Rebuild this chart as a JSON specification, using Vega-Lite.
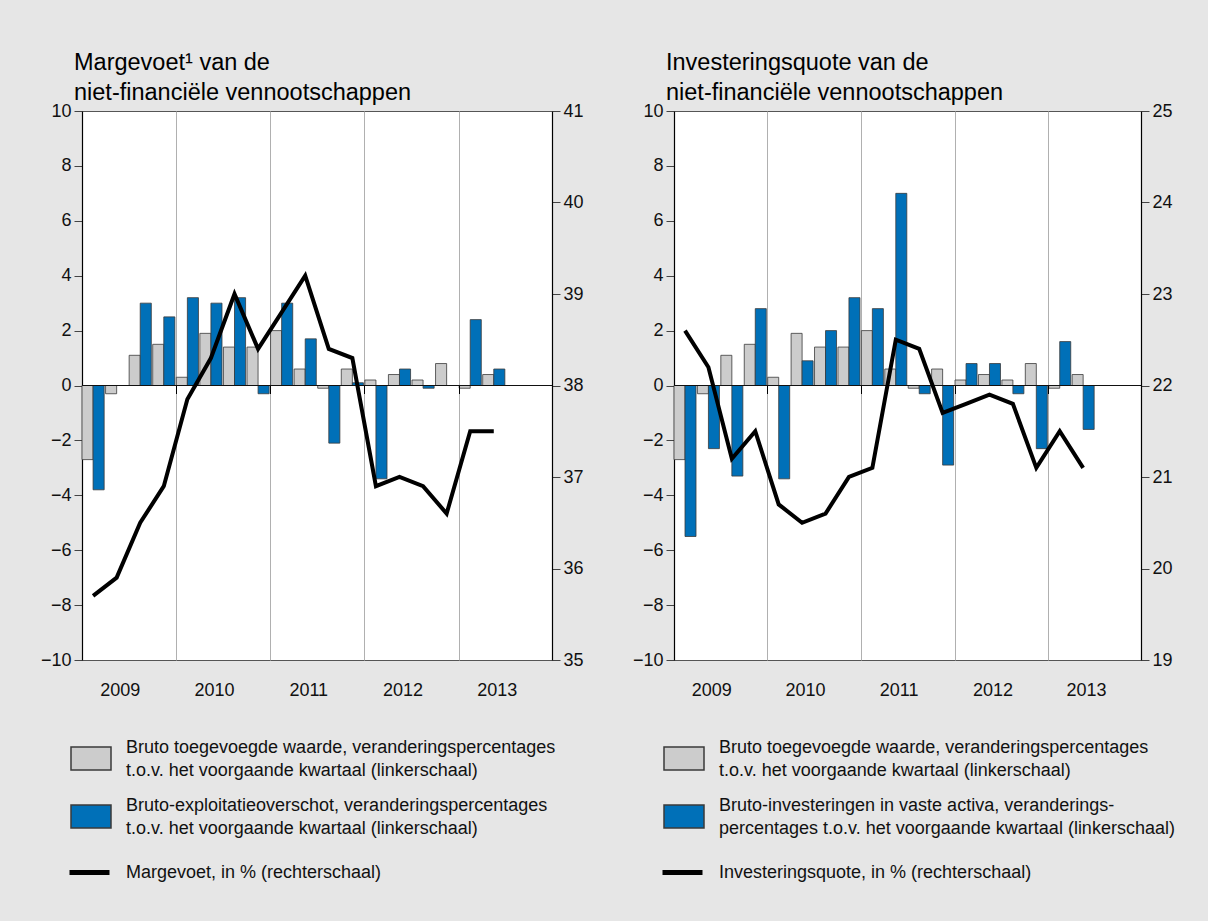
{
  "$schema": "https://vega.github.io/schema/vega-lite/v6.json",
  "background": "#e6e6e6",
  "padding": {"left": 39, "top": 50, "right": 44, "bottom": 44},
  "datasets": {
    "m_bars": [
      {"kwartaal": "2009-1", "reeks": "bw", "waarde": -2.7}, {"kwartaal": "2009-1", "reeks": "beo", "waarde": -3.8},
      {"kwartaal": "2009-2", "reeks": "bw", "waarde": -0.3}, {"kwartaal": "2009-2", "reeks": "beo", "waarde": 0},
      {"kwartaal": "2009-3", "reeks": "bw", "waarde": 1.1}, {"kwartaal": "2009-3", "reeks": "beo", "waarde": 3.0},
      {"kwartaal": "2009-4", "reeks": "bw", "waarde": 1.5}, {"kwartaal": "2009-4", "reeks": "beo", "waarde": 2.5},
      {"kwartaal": "2010-1", "reeks": "bw", "waarde": 0.3}, {"kwartaal": "2010-1", "reeks": "beo", "waarde": 3.2},
      {"kwartaal": "2010-2", "reeks": "bw", "waarde": 1.9}, {"kwartaal": "2010-2", "reeks": "beo", "waarde": 3.0},
      {"kwartaal": "2010-3", "reeks": "bw", "waarde": 1.4}, {"kwartaal": "2010-3", "reeks": "beo", "waarde": 3.2},
      {"kwartaal": "2010-4", "reeks": "bw", "waarde": 1.4}, {"kwartaal": "2010-4", "reeks": "beo", "waarde": -0.3},
      {"kwartaal": "2011-1", "reeks": "bw", "waarde": 2.0}, {"kwartaal": "2011-1", "reeks": "beo", "waarde": 3.0},
      {"kwartaal": "2011-2", "reeks": "bw", "waarde": 0.6}, {"kwartaal": "2011-2", "reeks": "beo", "waarde": 1.7},
      {"kwartaal": "2011-3", "reeks": "bw", "waarde": -0.1}, {"kwartaal": "2011-3", "reeks": "beo", "waarde": -2.1},
      {"kwartaal": "2011-4", "reeks": "bw", "waarde": 0.6}, {"kwartaal": "2011-4", "reeks": "beo", "waarde": 0.1},
      {"kwartaal": "2012-1", "reeks": "bw", "waarde": 0.2}, {"kwartaal": "2012-1", "reeks": "beo", "waarde": -3.4},
      {"kwartaal": "2012-2", "reeks": "bw", "waarde": 0.4}, {"kwartaal": "2012-2", "reeks": "beo", "waarde": 0.6},
      {"kwartaal": "2012-3", "reeks": "bw", "waarde": 0.2}, {"kwartaal": "2012-3", "reeks": "beo", "waarde": -0.1},
      {"kwartaal": "2012-4", "reeks": "bw", "waarde": 0.8}, {"kwartaal": "2012-4", "reeks": "beo", "waarde": 0},
      {"kwartaal": "2013-1", "reeks": "bw", "waarde": -0.1}, {"kwartaal": "2013-1", "reeks": "beo", "waarde": 2.4},
      {"kwartaal": "2013-2", "reeks": "bw", "waarde": 0.4}, {"kwartaal": "2013-2", "reeks": "beo", "waarde": 0.6}
    ],
    "m_line": [
      {"kwartaal": "2009-1", "margevoet": 35.7}, {"kwartaal": "2009-2", "margevoet": 35.9},
      {"kwartaal": "2009-3", "margevoet": 36.5}, {"kwartaal": "2009-4", "margevoet": 36.9},
      {"kwartaal": "2010-1", "margevoet": 37.85}, {"kwartaal": "2010-2", "margevoet": 38.3},
      {"kwartaal": "2010-3", "margevoet": 39.0}, {"kwartaal": "2010-4", "margevoet": 38.4},
      {"kwartaal": "2011-1", "margevoet": 38.8}, {"kwartaal": "2011-2", "margevoet": 39.2},
      {"kwartaal": "2011-3", "margevoet": 38.4}, {"kwartaal": "2011-4", "margevoet": 38.3},
      {"kwartaal": "2012-1", "margevoet": 36.9}, {"kwartaal": "2012-2", "margevoet": 37.0},
      {"kwartaal": "2012-3", "margevoet": 36.9}, {"kwartaal": "2012-4", "margevoet": 36.6},
      {"kwartaal": "2013-1", "margevoet": 37.5}, {"kwartaal": "2013-2", "margevoet": 37.5}
    ],
    "i_bars": [
      {"kwartaal": "2009-1", "reeks": "bw", "waarde": -2.7}, {"kwartaal": "2009-1", "reeks": "bi", "waarde": -5.5},
      {"kwartaal": "2009-2", "reeks": "bw", "waarde": -0.3}, {"kwartaal": "2009-2", "reeks": "bi", "waarde": -2.3},
      {"kwartaal": "2009-3", "reeks": "bw", "waarde": 1.1}, {"kwartaal": "2009-3", "reeks": "bi", "waarde": -3.3},
      {"kwartaal": "2009-4", "reeks": "bw", "waarde": 1.5}, {"kwartaal": "2009-4", "reeks": "bi", "waarde": 2.8},
      {"kwartaal": "2010-1", "reeks": "bw", "waarde": 0.3}, {"kwartaal": "2010-1", "reeks": "bi", "waarde": -3.4},
      {"kwartaal": "2010-2", "reeks": "bw", "waarde": 1.9}, {"kwartaal": "2010-2", "reeks": "bi", "waarde": 0.9},
      {"kwartaal": "2010-3", "reeks": "bw", "waarde": 1.4}, {"kwartaal": "2010-3", "reeks": "bi", "waarde": 2.0},
      {"kwartaal": "2010-4", "reeks": "bw", "waarde": 1.4}, {"kwartaal": "2010-4", "reeks": "bi", "waarde": 3.2},
      {"kwartaal": "2011-1", "reeks": "bw", "waarde": 2.0}, {"kwartaal": "2011-1", "reeks": "bi", "waarde": 2.8},
      {"kwartaal": "2011-2", "reeks": "bw", "waarde": 0.6}, {"kwartaal": "2011-2", "reeks": "bi", "waarde": 7.0},
      {"kwartaal": "2011-3", "reeks": "bw", "waarde": -0.1}, {"kwartaal": "2011-3", "reeks": "bi", "waarde": -0.3},
      {"kwartaal": "2011-4", "reeks": "bw", "waarde": 0.6}, {"kwartaal": "2011-4", "reeks": "bi", "waarde": -2.9},
      {"kwartaal": "2012-1", "reeks": "bw", "waarde": 0.2}, {"kwartaal": "2012-1", "reeks": "bi", "waarde": 0.8},
      {"kwartaal": "2012-2", "reeks": "bw", "waarde": 0.4}, {"kwartaal": "2012-2", "reeks": "bi", "waarde": 0.8},
      {"kwartaal": "2012-3", "reeks": "bw", "waarde": 0.2}, {"kwartaal": "2012-3", "reeks": "bi", "waarde": -0.3},
      {"kwartaal": "2012-4", "reeks": "bw", "waarde": 0.8}, {"kwartaal": "2012-4", "reeks": "bi", "waarde": -2.3},
      {"kwartaal": "2013-1", "reeks": "bw", "waarde": -0.1}, {"kwartaal": "2013-1", "reeks": "bi", "waarde": 1.6},
      {"kwartaal": "2013-2", "reeks": "bw", "waarde": 0.4}, {"kwartaal": "2013-2", "reeks": "bi", "waarde": -1.6}
    ],
    "i_line": [
      {"kwartaal": "2009-1", "quote": 22.6}, {"kwartaal": "2009-2", "quote": 22.2},
      {"kwartaal": "2009-3", "quote": 21.2}, {"kwartaal": "2009-4", "quote": 21.5},
      {"kwartaal": "2010-1", "quote": 20.7}, {"kwartaal": "2010-2", "quote": 20.5},
      {"kwartaal": "2010-3", "quote": 20.6}, {"kwartaal": "2010-4", "quote": 21.0},
      {"kwartaal": "2011-1", "quote": 21.1}, {"kwartaal": "2011-2", "quote": 22.5},
      {"kwartaal": "2011-3", "quote": 22.4}, {"kwartaal": "2011-4", "quote": 21.7},
      {"kwartaal": "2012-1", "quote": 21.8}, {"kwartaal": "2012-2", "quote": 21.9},
      {"kwartaal": "2012-3", "quote": 21.8}, {"kwartaal": "2012-4", "quote": 21.1},
      {"kwartaal": "2013-1", "quote": 21.5}, {"kwartaal": "2013-2", "quote": 21.1}
    ]
  },
  "spacing": 122,
  "bounds": "flush",
  "resolve": {"scale": {"fill": "independent", "stroke": "independent", "xOffset": "independent"}, "legend": {"fill": "independent", "stroke": "independent"}},
  "hconcat": [
    {
      "width": 470,
      "height": 549,
      "title": {"text": ["Margevoet¹ van de", "niet-financiële vennootschappen"], "anchor": "start", "frame": "group", "dx": -8, "offset": -2},
      "layer": [
        {
          "data": {"name": "m_bars"},
          "mark": {"type": "bar", "stroke": "#3a3a3a", "strokeWidth": 0.8},
          "encoding": {
            "x": {"field": "kwartaal", "type": "ordinal",
              "scale": {"domain": ["2009-1","2009-2","2009-3","2009-4","2010-1","2010-2","2010-3","2010-4","2011-1","2011-2","2011-3","2011-4","2012-1","2012-2","2012-3","2012-4","2013-1","2013-2","2013-3","2013-4"], "paddingInner": 0.06, "paddingOuter": 0},
              "axis": {"title": null, "orient": "bottom", "values": ["2009-3","2010-1","2010-3","2011-1","2011-3","2012-1","2012-3","2013-1","2013-3"], "bandPosition": 0, "domain": false, "ticks": false, "labelAngle": 0, "labelPadding": 21, "labelOffset": -20,
                "labelExpr": "indexof(datum.value, '-3') > 0 ? slice(datum.value, 0, 4) : ''",
                "grid": true, "gridColor": "#b0b0b0", "gridWidth": 1,
                "gridOpacity": {"condition": {"test": "indexof(datum.value, '-1') > 0", "value": 1}, "value": 0}}},
            "xOffset": {"field": "reeks", "type": "nominal", "scale": {"domain": ["bw","beo"], "paddingInner": 0, "paddingOuter": 0}},
            "y": {"field": "waarde", "type": "quantitative", "scale": {"domain": [-10, 10], "nice": false},
              "axis": {"title": null, "orient": "left", "values": [-10,-8,-6,-4,-2,0,2,4,6,8,10], "grid": false, "tickSize": 8, "labelPadding": 3}},
            "fill": {"field": "reeks", "type": "nominal",
              "scale": {"domain": ["bw","beo"], "range": ["#cccccc","#0070b8"]},
              "legend": {"orient": "none", "legendX": -12, "legendY": 616, "direction": "vertical", "title": null, "padding": 0,
                "symbolType": "M-1,-0.05H1V1.1H-1Z", "rowPadding": 5, "labelOffset": 14,
                "labelExpr": "datum.value == 'bw' ? ['Bruto toegevoegde waarde, veranderingspercentages', 't.o.v. het voorgaande kwartaal (linkerschaal)'] : ['Bruto-exploitatieoverschot, veranderingspercentages', 't.o.v. het voorgaande kwartaal (linkerschaal)']"}}
          }
        },
        {
          "data": {"values": [{}]},
          "mark": {"type": "rule", "color": "#111111", "strokeWidth": 1.2},
          "encoding": {"y": {"datum": 0, "type": "quantitative", "scale": {"domain": [-10, 10], "nice": false}, "axis": null}}
        },
        {
          "data": {"name": "m_line"},
          "mark": {"type": "line", "strokeWidth": 4},
          "encoding": {
            "x": {"field": "kwartaal", "type": "ordinal",
              "axis": {"title": null, "orient": "bottom", "offset": -274.5, "values": ["2010-1","2011-1","2012-1","2013-1"], "bandPosition": 0, "labels": false, "domain": false, "grid": false, "ticks": true, "tickSize": 8, "tickColor": "#000000", "zindex": 1}},
            "y": {"field": "margevoet", "type": "quantitative", "scale": {"domain": [35, 41], "nice": false, "zero": false},
              "axis": {"title": null, "orient": "right", "values": [35,36,37,38,39,40,41], "grid": false, "tickSize": 8, "labelPadding": 3}},
            "stroke": {"datum": "mv", "type": "nominal", "scale": {"domain": ["mv"], "range": ["#000000"]},
              "legend": {"orient": "none", "legendX": -15, "legendY": 739, "title": null, "padding": 0, "symbolType": "stroke", "symbolStrokeWidth": 5, "labelOffset": 14,
                "labelExpr": "'Margevoet, in % (rechterschaal)'"}}
          }
        }
      ],
      "resolve": {"scale": {"y": "independent"}, "axis": {"x": "independent", "y": "independent"}}
    },
    {
      "width": 467,
      "height": 549,
      "title": {"text": ["Investeringsquote van de", "niet-financiële vennootschappen"], "anchor": "start", "frame": "group", "dx": -8, "offset": -2},
      "layer": [
        {
          "data": {"name": "i_bars"},
          "mark": {"type": "bar", "stroke": "#3a3a3a", "strokeWidth": 0.8},
          "encoding": {
            "x": {"field": "kwartaal", "type": "ordinal",
              "scale": {"domain": ["2009-1","2009-2","2009-3","2009-4","2010-1","2010-2","2010-3","2010-4","2011-1","2011-2","2011-3","2011-4","2012-1","2012-2","2012-3","2012-4","2013-1","2013-2","2013-3","2013-4"], "paddingInner": 0.06, "paddingOuter": 0},
              "axis": {"title": null, "orient": "bottom", "values": ["2009-3","2010-1","2010-3","2011-1","2011-3","2012-1","2012-3","2013-1","2013-3"], "bandPosition": 0, "domain": false, "ticks": false, "labelAngle": 0, "labelPadding": 21, "labelOffset": -20,
                "labelExpr": "indexof(datum.value, '-3') > 0 ? slice(datum.value, 0, 4) : ''",
                "grid": true, "gridColor": "#b0b0b0", "gridWidth": 1,
                "gridOpacity": {"condition": {"test": "indexof(datum.value, '-1') > 0", "value": 1}, "value": 0}}},
            "xOffset": {"field": "reeks", "type": "nominal", "scale": {"domain": ["bw","bi"], "paddingInner": 0, "paddingOuter": 0}},
            "y": {"field": "waarde", "type": "quantitative", "scale": {"domain": [-10, 10], "nice": false},
              "axis": {"title": null, "orient": "left", "values": [-10,-8,-6,-4,-2,0,2,4,6,8,10], "grid": false, "tickSize": 8, "labelPadding": 3}},
            "fill": {"field": "reeks", "type": "nominal",
              "scale": {"domain": ["bw","bi"], "range": ["#cccccc","#0070b8"]},
              "legend": {"orient": "none", "legendX": -11, "legendY": 616, "direction": "vertical", "title": null, "padding": 0,
                "symbolType": "M-1,-0.05H1V1.1H-1Z", "rowPadding": 5, "labelOffset": 14,
                "labelExpr": "datum.value == 'bw' ? ['Bruto toegevoegde waarde, veranderingspercentages', 't.o.v. het voorgaande kwartaal (linkerschaal)'] : ['Bruto-investeringen in vaste activa, veranderings-', 'percentages t.o.v. het voorgaande kwartaal (linkerschaal)']"}}
          }
        },
        {
          "data": {"values": [{}]},
          "mark": {"type": "rule", "color": "#111111", "strokeWidth": 1.2},
          "encoding": {"y": {"datum": 0, "type": "quantitative", "scale": {"domain": [-10, 10], "nice": false}, "axis": null}}
        },
        {
          "data": {"name": "i_line"},
          "mark": {"type": "line", "strokeWidth": 4},
          "encoding": {
            "x": {"field": "kwartaal", "type": "ordinal",
              "axis": {"title": null, "orient": "bottom", "offset": -274.5, "values": ["2010-1","2011-1","2012-1","2013-1"], "bandPosition": 0, "labels": false, "domain": false, "grid": false, "ticks": true, "tickSize": 8, "tickColor": "#000000", "zindex": 1}},
            "y": {"field": "quote", "type": "quantitative", "scale": {"domain": [19, 25], "nice": false, "zero": false},
              "axis": {"title": null, "orient": "right", "values": [19,20,21,22,23,24,25], "grid": false, "tickSize": 8, "labelPadding": 3}},
            "stroke": {"datum": "iq", "type": "nominal", "scale": {"domain": ["iq"], "range": ["#000000"]},
              "legend": {"orient": "none", "legendX": -14, "legendY": 739, "title": null, "padding": 0, "symbolType": "stroke", "symbolStrokeWidth": 5, "labelOffset": 14,
                "labelExpr": "'Investeringsquote, in % (rechterschaal)'"}}
          }
        }
      ],
      "resolve": {"scale": {"y": "independent"}, "axis": {"x": "independent", "y": "independent"}}
    }
  ],
  "config": {
    "font": "Liberation Sans",
    "view": {"stroke": "#555555", "fill": "#ffffff", "strokeWidth": 1},
    "axis": {"labelFont": "Liberation Sans", "labelFontSize": 18, "labelColor": "#111111", "tickColor": "#444444", "domainColor": "#000000", "domainWidth": 1.2},
    "legend": {"labelFont": "Liberation Sans", "labelFontSize": 18, "labelColor": "#111111", "labelLimit": 700, "symbolSize": 1600},
    "style": {"guide-label": {"lineHeight": 23}},
    "title": {"font": "Liberation Sans", "fontSize": 23.5, "fontWeight": "normal", "color": "#000000", "lineHeight": 30}
  }
}
